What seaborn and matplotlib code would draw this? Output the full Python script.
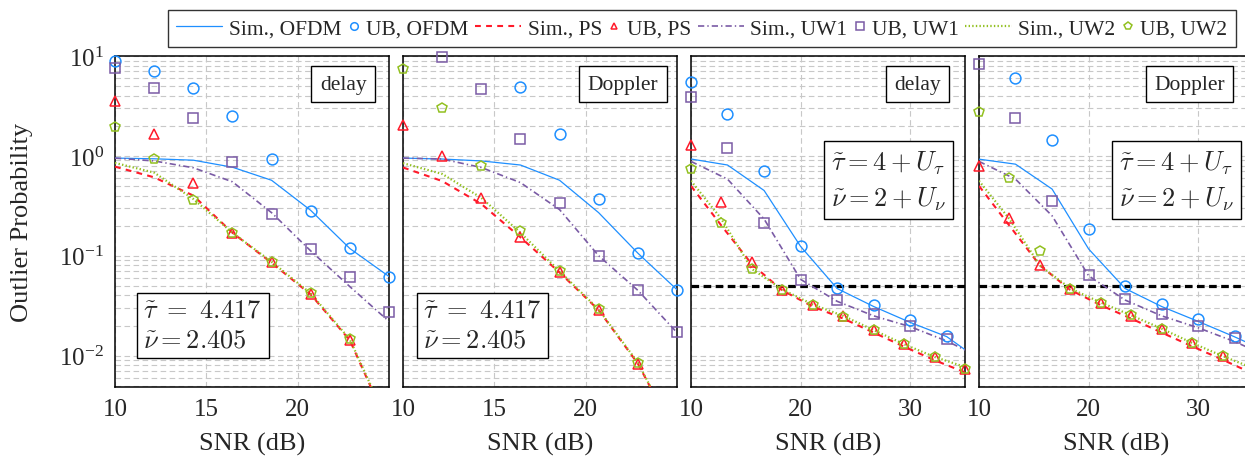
import numpy as np
import seaborn as sns
import matplotlib.pyplot as plt
from matplotlib.legend_handler import HandlerLine2D
from matplotlib.ticker import NullFormatter, LogLocator

nan = np.nan

# SNR grids (dB)
snr_short = [10, 12.14, 14.29, 16.43, 18.57, 20.71, 22.86, 25]
snr_ub_long = [10, 13.33, 16.67, 20, 23.33, 26.67, 30, 33.33]
snr_sim_long = [10, 13.33, 16.67, 20, 23.33, 26.67, 30, 33.33, 36.67]
snr_ps_long = [10, 12.78, 15.56, 18.33, 21.11, 23.89, 26.67, 29.44, 32.22, 35]

# panel 1: delay, fixed offsets
sim_ofdm_1 = [0.95, 0.935, 0.905, 0.77, 0.57, 0.285, 0.118, 0.062]
ub_ofdm_1 = [8.91, 7.08, 4.75, 2.48, 0.927, 0.282, 0.1186, 0.0617]
sim_ps_1 = [0.78, 0.61, 0.40, 0.17, 0.085, 0.041, 0.0142, 0.0019]
ub_ps_1 = [3.55, 1.65, 0.53, 0.17, 0.086, 0.0417, 0.0142, nan]
sim_uw1_1 = [0.95, 0.89, 0.76, 0.55, 0.27, 0.112, 0.049, 0.022]
ub_uw1_1 = [7.53, 4.83, 2.38, 0.859, 0.261, 0.117, 0.0617, 0.0272]
sim_uw2_1 = [0.85, 0.68, 0.37, 0.17, 0.087, 0.042, 0.0145, 0.002]
ub_uw2_1 = [1.95, 0.93, 0.36, 0.168, 0.087, 0.042, 0.0145, nan]

# panel 2: Doppler, fixed offsets
sim_ofdm_2 = [0.95, 0.93, 0.89, 0.81, 0.57, 0.27, 0.106, 0.0457]
ub_ofdm_2 = [nan, nan, nan, 4.94, 1.65, 0.369, 0.106, 0.0457]
sim_ps_2 = [0.765, 0.56, 0.33, 0.153, 0.068, 0.0286, 0.0083, 0.0015]
ub_ps_2 = [2.03, 0.99, 0.378, 0.153, 0.068, 0.0286, 0.0083, nan]
sim_uw1_2 = [0.95, 0.93, 0.765, 0.54, 0.29, 0.1, 0.045, 0.017]
ub_uw1_2 = [nan, 9.8, 4.64, 1.47, 0.334, 0.1, 0.0457, 0.0171]
sim_uw2_2 = [0.845, 0.66, 0.38, 0.17, 0.07, 0.029, 0.0085, 0.0015]
ub_uw2_2 = [7.36, 3.05, 0.794, 0.178, 0.07, 0.029, 0.0085, nan]

# panel 3: delay, random offsets
sim_ofdm_3 = [0.93, 0.81, 0.45, 0.124, 0.047, 0.031, 0.0215, 0.0155, 0.0085]
ub_ofdm_3 = [5.5, 2.61, 0.708, 0.124, 0.0472, 0.0321, 0.0229, 0.0156]
sim_ps_3 = [0.5, 0.2, 0.082, 0.045, 0.031, 0.0235, 0.017, 0.0123, 0.009, 0.0068]
ub_ps_3 = [1.29, 0.342, 0.0859, 0.0454, 0.0322, 0.0248, 0.0181, 0.0131, 0.00964, 0.00736]
sim_uw1_3 = [0.88, 0.585, 0.233, 0.058, 0.035, 0.025, 0.0195, 0.014, 0.0093]
ub_uw1_3 = [3.93, 1.19, 0.212, 0.0571, 0.0363, 0.0261, 0.0197, 0.0145]
sim_uw2_3 = [0.562, 0.233, 0.0736, 0.046, 0.0325, 0.025, 0.018, 0.013, 0.0097, 0.0077]
ub_uw2_3 = [0.736, 0.212, 0.0736, 0.045, 0.032, 0.0245, 0.018, 0.013, 0.0096, 0.0074]

# panel 4: Doppler, random offsets
sim_ofdm_4 = [0.927, 0.826, 0.465, 0.117, 0.047, 0.031, 0.022, 0.0154, 0.0105]
ub_ofdm_4 = [nan, 6.08, 1.44, 0.185, 0.0501, 0.0329, 0.0233, 0.0156]
sim_ps_4 = [0.5, 0.2, 0.08, 0.0455, 0.032, 0.0235, 0.017, 0.0124, 0.0091, 0.0066]
ub_ps_4 = [0.783, 0.237, 0.0813, 0.0464, 0.0336, 0.0251, 0.0185, 0.0133, 0.0098, 0.0074]
sim_uw1_4 = [0.88, 0.585, 0.251, 0.063, 0.036, 0.025, 0.019, 0.0138, 0.0095]
ub_uw1_4 = [8.26, 2.42, 0.355, 0.064, 0.0369, 0.0261, 0.0197, 0.0149]
sim_uw2_4 = [0.562, 0.233, 0.08, 0.047, 0.034, 0.0253, 0.0186, 0.0134, 0.0099, 0.0075]
ub_uw2_4 = [2.75, 0.598, 0.111, 0.0464, 0.034, 0.0253, 0.0186, 0.0134, 0.0099, 0.0076]

threshold = 0.05
box_labels = ['delay', 'Doppler', 'delay', 'Doppler']
fixed_txt = r'$\tilde{\tau}\ =\ 4.417$' + '\n' + r'$\tilde{\nu} = 2.405$'
rand_txt = r'$\tilde{\tau} = 4 + U_\tau$' + '\n' + r'$\tilde{\nu} = 2 + U_\nu$'

sns.set_theme(style='white')
plt.rcParams['font.family'] = ['Liberation Serif', 'DejaVu Serif']
plt.rcParams['mathtext.fontset'] = 'stix'
plt.rcParams['lines.scale_dashes'] = False

blue, red, purple, green = '#1e8fff', '#ff1a2a', '#7a5ba5', '#92c020'

sim_style = {
    'OFDM': dict(color=blue, lw=0.9, ls='-'),
    'PS': dict(color=red, lw=1.5, ls=(0, (4.2, 3.8))),
    'UW1': dict(color=purple, lw=1.2, ls=(0, (4.5, 2.2, 1.0, 2.2))),
    'UW2': dict(color=green, lw=1.6, ls=(0, (1.0, 1.6))),
}
ub_style = {
    'OFDM': dict(color=blue, marker='o', ms=7.8),
    'PS': dict(color=red, marker='^', ms=6.8),
    'UW1': dict(color=purple, marker='s', ms=7.8),
    'UW2': dict(color=green, marker='p', ms=7.8),
}

panels = [
    dict(x_sim=snr_short, x_ub=snr_short, x_ps=snr_short, xlim=(10, 25), ticks=[10, 15, 20],
         sim={'OFDM': sim_ofdm_1, 'PS': sim_ps_1, 'UW1': sim_uw1_1, 'UW2': sim_uw2_1},
         ub={'OFDM': ub_ofdm_1, 'PS': ub_ps_1, 'UW1': ub_uw1_1, 'UW2': ub_uw2_1}),
    dict(x_sim=snr_short, x_ub=snr_short, x_ps=snr_short, xlim=(10, 25), ticks=[10, 15, 20],
         sim={'OFDM': sim_ofdm_2, 'PS': sim_ps_2, 'UW1': sim_uw1_2, 'UW2': sim_uw2_2},
         ub={'OFDM': ub_ofdm_2, 'PS': ub_ps_2, 'UW1': ub_uw1_2, 'UW2': ub_uw2_2}),
    dict(x_sim=snr_sim_long, x_ub=snr_ub_long, x_ps=snr_ps_long, xlim=(10, 35), ticks=[10, 20, 30],
         sim={'OFDM': sim_ofdm_3, 'PS': sim_ps_3, 'UW1': sim_uw1_3, 'UW2': sim_uw2_3},
         ub={'OFDM': ub_ofdm_3, 'PS': ub_ps_3, 'UW1': ub_uw1_3, 'UW2': ub_uw2_3}),
    dict(x_sim=snr_sim_long, x_ub=snr_ub_long, x_ps=snr_ps_long, xlim=(10, 35), ticks=[10, 20, 30],
         sim={'OFDM': sim_ofdm_4, 'PS': sim_ps_4, 'UW1': sim_uw1_4, 'UW2': sim_uw2_4},
         ub={'OFDM': ub_ofdm_4, 'PS': ub_ps_4, 'UW1': ub_uw1_4, 'UW2': ub_uw2_4}),
]

fig = plt.figure(figsize=(12.45, 4.6), dpi=100)
lefts = [115, 403, 691, 979]
name_pos = [0.918, 0.931, 0.912, 0.897]
param_pos = [(0.104, 0.108, 'bottom'), (0.074, 0.108, 'bottom'), (0.51, 0.722, 'top'), (0.51, 0.722, 'top')]

axes = []
for i, p in enumerate(panels):
    ax = fig.add_axes([lefts[i] / 1245, 1 - 388 / 460, 274 / 1245, 331 / 460])
    ax.set_yscale('log')
    for s in ['OFDM', 'PS', 'UW1', 'UW2']:
        xs = p['x_ps'] if s in ('PS', 'UW2') else p['x_sim']
        xu = p['x_ps'] if s in ('PS', 'UW2') else p['x_ub']
        st = sim_style[s]
        sns.lineplot(x=xs, y=p['sim'][s], ax=ax, estimator=None, sort=False, errorbar=None,
                     color=st['color'], linewidth=st['lw'], linestyle=st['ls'],
                     label='Sim., ' + s, zorder=3)
        mk = ub_style[s]
        sns.lineplot(x=xu, y=p['ub'][s], ax=ax, estimator=None, sort=False, errorbar=None,
                     color=mk['color'], linestyle='', marker=mk['marker'], markersize=mk['ms'],
                     markerfacecolor='none', markeredgecolor=mk['color'], markeredgewidth=1.1,
                     clip_on=False, label='UB, ' + s, zorder=4)
    if i >= 2:
        ax.axhline(threshold, color='black', lw=2.3, ls=(0, (5.5, 3.2)), zorder=2)
    ax.set_xlim(*p['xlim'])
    ax.set_ylim(4.85e-3, 10)
    ax.set_xticks(p['ticks'])
    ax.set_yticks([1e-2, 1e-1, 1, 10])
    ax.yaxis.set_minor_locator(LogLocator(subs=np.arange(2, 10)))
    ax.yaxis.set_minor_formatter(NullFormatter())
    ax.grid(which='major', color='#c8c8c8', lw=0.8, ls=(0, (4, 2.5)))
    ax.grid(which='minor', axis='y', color='#c8c8c8', lw=0.8, ls=(0, (4, 2.5)))
    ax.tick_params(which='both', direction='in', labelsize=18, color='#333333', pad=8)
    ax.tick_params(which='major', length=3)
    ax.tick_params(which='minor', length=1.5)
    for sp in ax.spines.values():
        sp.set_color('black')
        sp.set_linewidth(1.1)
    ax.set_xlabel('SNR (dB)', fontsize=19)
    ax.xaxis.set_label_coords(0.5, -0.135)
    if i == 0:
        ax.set_ylabel('Outlier Probability', fontsize=19)
        ax.yaxis.set_label_coords(-0.30, 0.5)
    else:
        ax.tick_params(labelleft=False)
    if ax.get_legend():
        ax.get_legend().remove()
    ax.text(name_pos[i], 0.944, box_labels[i], transform=ax.transAxes, ha='right', va='top',
            fontsize=15.5, zorder=6,
            bbox=dict(boxstyle='square,pad=0.4', fc='white', ec='black', lw=1.0))
    px, py, va = param_pos[i]
    ax.text(px, py, fixed_txt if i < 2 else rand_txt, transform=ax.transAxes, ha='left', va=va,
            fontsize=19, math_fontfamily='cm', linespacing=1.45, zorder=6,
            bbox=dict(boxstyle='square,pad=0.25', fc='white', ec='black', lw=1.0))
    axes.append(ax)


class ShortHandler(HandlerLine2D):
    def legend_artist(self, legend, orig_handle, fontsize, handlebox):
        handlebox.width = 0.55 * fontsize
        return super().legend_artist(legend, orig_handle, fontsize, handlebox)


handles, labels = axes[0].get_legend_handles_labels()
hmap = {h: ShortHandler() for h, l in zip(handles, labels) if l.startswith('UB')}
leg = fig.legend(handles, labels, loc='center', bbox_to_anchor=(0.5635, 0.936), ncol=8,
                 fontsize=15.5, frameon=True, fancybox=False, framealpha=1, edgecolor='#333333',
                 handlelength=2.15, handletextpad=0.3, columnspacing=0.3, borderpad=0.4,
                 markerscale=0.7, handler_map=hmap)
leg.get_frame().set_linewidth(1.0)

fig.savefig('out.png', dpi=100)
